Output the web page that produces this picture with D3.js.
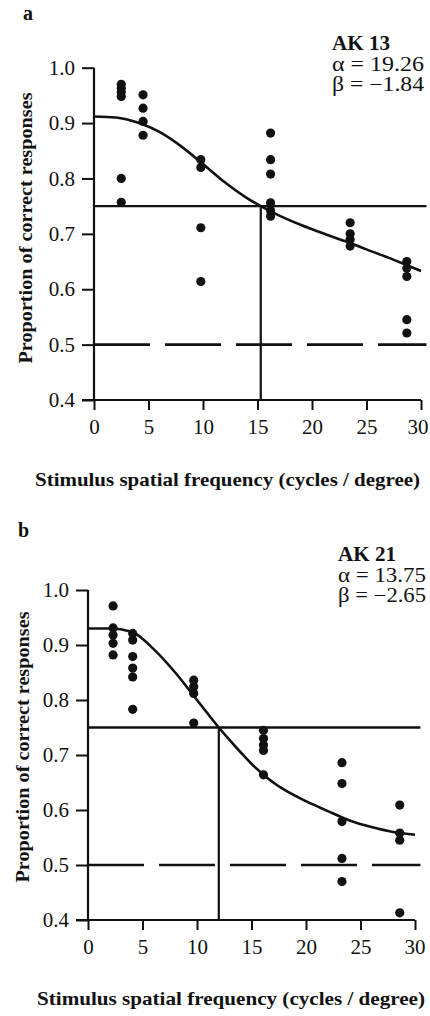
<!DOCTYPE html>
<html>
<head>
<meta charset="utf-8">
<script src="https://cdn.jsdelivr.net/npm/d3@7/dist/d3.min.js"></script>
<style>
  html, body { margin: 0; padding: 0; background: #ffffff; }
  svg { display: block; }
  text { font-family: "Liberation Serif", "Times New Roman", serif; fill: #111; }
</style>
</head>
<body>
<script>
// ---------------- DATA ----------------
const xTicks = [0, 5, 10, 15, 20, 25, 30];
const yTicks = [0.4, 0.5, 0.6, 0.7, 0.8, 0.9, 1.0];
const xLabel = "Stimulus spatial frequency (cycles / degree)";
const yLabel = "Proportion of correct responses";

// Panel a (AK 13)
const aPanel = "a";
const aInfo = ["AK 13", "α = 19.26", "β = −1.84"];
const aDotX = [2.5, 2.5, 2.5, 2.5, 2.5, 2.5,
               4.5, 4.5, 4.5, 4.5,
               9.8, 9.8, 9.8, 9.8,
               16.2, 16.2, 16.2, 16.2, 16.2, 16.2,
               23.5, 23.5, 23.5, 23.5,
               28.7, 28.7, 28.7, 28.7, 28.7];
const aDotY = [0.970, 0.963, 0.956, 0.948, 0.800, 0.757,
               0.951, 0.927, 0.903, 0.878,
               0.834, 0.820, 0.711, 0.614,
               0.882, 0.834, 0.808, 0.756, 0.742, 0.732,
               0.720, 0.700, 0.690, 0.678,
               0.650, 0.638, 0.623, 0.545, 0.521];
const aCurveX = [0, 2, 4, 6, 8, 10, 12, 14, 15.3, 17, 19, 21, 23, 25, 27, 29, 30];
const aCurveY = [0.912, 0.910, 0.901, 0.884, 0.858, 0.826, 0.793, 0.765, 0.750, 0.733, 0.716, 0.701, 0.687, 0.672, 0.657, 0.641, 0.633];
const aThreshold = 15.3;

// Panel b (AK 21)
const bPanel = "b";
const bInfo = ["AK 21", "α = 13.75", "β = −2.65"];
const bDotX = [2.3, 2.3, 2.3, 2.3, 2.3,
               4.1, 4.1, 4.1, 4.1, 4.1, 4.1,
               9.7, 9.7, 9.7, 9.7,
               16.1, 16.1, 16.1, 16.1, 16.1,
               23.3, 23.3, 23.3, 23.3, 23.3,
               28.6, 28.6, 28.6, 28.6];
const bDotY = [0.971, 0.931, 0.918, 0.903, 0.882,
               0.921, 0.909, 0.879, 0.858, 0.842, 0.783,
               0.836, 0.824, 0.812, 0.758,
               0.745, 0.730, 0.718, 0.708, 0.664,
               0.686, 0.648, 0.579, 0.512, 0.470,
               0.609, 0.558, 0.545, 0.413];
const bCurveX = [0, 2, 4, 6, 8, 10, 12, 13, 14, 15, 16, 17, 18, 20, 22, 24, 26, 28, 30];
const bCurveY = [0.930, 0.930, 0.924, 0.893, 0.850, 0.800, 0.750, 0.727, 0.705, 0.684, 0.666, 0.650, 0.637, 0.616, 0.598, 0.581, 0.569, 0.560, 0.555];
const bThreshold = 12.0;

const chance = 0.5;
const criterion = 0.75;
const lineEnd = 30.5;

// ---------------- DRAW ----------------
const W = 430, H = 1016;
const svg = d3.select("body").append("svg").attr("width", W).attr("height", H);

function panel(cfg) {
  const x = d3.scaleLinear().domain([0, 30]).range([cfg.x0, cfg.x1]);
  const y = d3.scaleLinear().domain([0.4, 1.0]).range([cfg.y0, cfg.y1]);
  const g = svg.append("g");

  // panel letter
  g.append("text").attr("x", cfg.letterX).attr("y", cfg.letterY)
    .attr("font-weight", "bold").attr("font-size", 20).text(cfg.letter);

  // info text
  cfg.info.forEach((t, i) => {
    g.append("text").attr("x", cfg.infoX).attr("y", cfg.infoY + i * 20.5)
      .attr("font-size", 20).attr("font-weight", i === 0 ? "bold" : "normal")
      .attr("textLength", i === 0 ? 58 : cfg.infoW).attr("lengthAdjust", "spacingAndGlyphs")
      .text(t);
  });

  // y axis
  const yAxis = d3.axisLeft(y).tickValues(yTicks).tickFormat(d3.format(".1f"))
    .tickSize(12).tickPadding(7);
  const ya = g.append("g").attr("transform", `translate(${x(0)},0)`).call(yAxis);
  ya.select(".domain").remove();
  ya.append("line").attr("x1", 0).attr("x2", 0).attr("y1", y(1.0)).attr("y2", y(0.4))
    .attr("stroke", "#111").attr("stroke-width", 2.2);
  ya.selectAll(".tick line").attr("stroke", "#111").attr("stroke-width", 2);
  ya.selectAll(".tick text").attr("font-size", 21).attr("fill", "#111")
    .attr("font-family", "Liberation Serif, serif");

  // x axis
  const xAxis = d3.axisBottom(x).tickValues(xTicks).tickFormat(d3.format("d"))
    .tickSize(10).tickPadding(9);
  const xa = g.append("g").attr("transform", `translate(0,${y(0.4)})`).call(xAxis);
  xa.select(".domain").remove();
  xa.append("line").attr("x1", x(0) - 12).attr("x2", x(30)).attr("y1", 0).attr("y2", 0)
    .attr("stroke", "#111").attr("stroke-width", 2.2);
  xa.selectAll(".tick line").attr("stroke", "#111").attr("stroke-width", 2);
  xa.selectAll(".tick text").attr("font-size", 21).attr("fill", "#111")
    .attr("font-family", "Liberation Serif, serif");
  // keep the last tick label inside the canvas
  xa.selectAll(".tick text").filter(d => d === 30)
    .attr("text-anchor", "end").attr("dx", Math.min(10, W - 2 - x(30)));

  // chance (dashed) line
  g.append("line").attr("x1", x(0)).attr("x2", x(lineEnd))
    .attr("y1", y(chance)).attr("y2", y(chance))
    .attr("stroke", "#111").attr("stroke-width", 2.6).attr("stroke-dasharray", "56 15");

  // criterion line
  g.append("line").attr("x1", x(0)).attr("x2", x(lineEnd))
    .attr("y1", y(criterion)).attr("y2", y(criterion))
    .attr("stroke", "#111").attr("stroke-width", 2.4);

  // threshold vertical
  g.append("line").attr("x1", x(cfg.threshold)).attr("x2", x(cfg.threshold))
    .attr("y1", y(criterion)).attr("y2", y(0.4))
    .attr("stroke", "#111").attr("stroke-width", 2.2);

  // fitted curve
  const pts = cfg.cx.map((v, i) => [v, cfg.cy[i]]);
  g.append("path").datum(pts)
    .attr("d", d3.line().x(d => x(d[0])).y(d => y(d[1])).curve(d3.curveMonotoneX))
    .attr("fill", "none").attr("stroke", "#111").attr("stroke-width", 2.6);

  // dots
  const dots = cfg.dx.map((v, i) => [v, cfg.dy[i]]);
  g.selectAll("circle.dot").data(dots).enter().append("circle")
    .attr("class", "dot").attr("cx", d => x(d[0])).attr("cy", d => y(d[1]))
    .attr("r", 4.6).attr("fill", "#111");

  // axis labels
  g.append("text").attr("x", cfg.xlabX).attr("y", cfg.xlabY)
    .attr("font-weight", "bold").attr("font-size", 19)
    .attr("textLength", cfg.xlabW).attr("lengthAdjust", "spacingAndGlyphs").text(xLabel);
  g.append("text").attr("transform", `translate(${cfg.ylabX},${cfg.ylabY}) rotate(-90)`)
    .attr("text-anchor", "middle").attr("font-weight", "bold").attr("font-size", 18)
    .attr("textLength", 271).attr("lengthAdjust", "spacingAndGlyphs").text(yLabel);
}

panel({
  letter: aPanel, letterX: 23, letterY: 20,
  info: aInfo, infoX: 332, infoY: 50, infoW: 92,
  x0: 94, x1: 421, y0: 400, y1: 67.7,
  threshold: aThreshold, cx: aCurveX, cy: aCurveY, dx: aDotX, dy: aDotY,
  xlabX: 35, xlabW: 385, xlabY: 486, ylabX: 32, ylabY: 228
});

panel({
  letter: bPanel, letterX: 18, letterY: 537,
  info: bInfo, infoX: 338, infoY: 561, infoW: 88,
  x0: 88, x1: 415, y0: 920, y1: 590,
  threshold: bThreshold, cx: bCurveX, cy: bCurveY, dx: bDotX, dy: bDotY,
  xlabX: 37, xlabW: 388, xlabY: 1005, ylabX: 29, ylabY: 747
});
</script>
</body>
</html>
